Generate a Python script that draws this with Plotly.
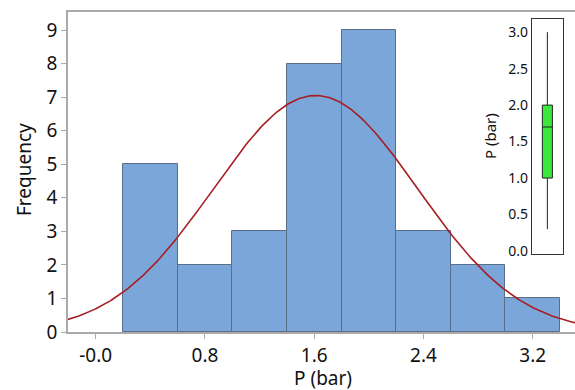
import numpy as np
import plotly.graph_objects as go

bin_edges = [0.2, 0.6, 1.0, 1.4, 1.8, 2.2, 2.6, 3.0, 3.4]
counts = [5, 2, 3, 8, 9, 3, 2, 1]
fit_mean = 1.61
fit_sd = 0.747
x_ticks = [0.0, 0.8, 1.6, 2.4, 3.2]
x_tick_labels = ["-0.0", "0.8", "1.6", "2.4", "3.2"]
y_ticks = list(range(10))
box_q1, box_median, box_q3 = 1.0, 1.7, 2.0
box_low, box_high = 0.3, 3.0
inset_ticks = [0.0, 0.5, 1.0, 1.5, 2.0, 2.5, 3.0]

centers = [(a + b) / 2 for a, b in zip(bin_edges[:-1], bin_edges[1:])]
bw = bin_edges[1] - bin_edges[0]
n = sum(counts)

xs = np.linspace(-0.25, 3.55, 300)
ys = n * bw / (fit_sd * np.sqrt(2 * np.pi)) * np.exp(-0.5 * ((xs - fit_mean) / fit_sd) ** 2)

font = "Noto Sans"
fig = go.Figure()
fig.add_trace(go.Bar(x=centers, y=counts, width=bw,
                     marker=dict(color="#7BA6DA", line=dict(color="#5B6E88", width=1)),
                     showlegend=False))
fig.add_trace(go.Scatter(x=xs, y=ys, mode="lines",
                         line=dict(color="#A71E22", width=1.6), showlegend=False))
fig.add_trace(go.Box(x=[0], q1=[box_q1], median=[box_median], q3=[box_q3],
                     lowerfence=[box_low], upperfence=[box_high],
                     width=0.65, whiskerwidth=0,
                     fillcolor="#3BE83B", line=dict(color="#222222", width=1),
                     xaxis="x2", yaxis="y2", showlegend=False, hoverinfo="skip"))

W, H = 575, 390
l, r, t, b = 68, 0, 12, 58
pw, ph = W - l - r, H - t - b


def px_to_paper(x, y):
    return (x - l) / pw, (H - y - b) / ph


ann = []
for text, px, py, size, angle in [("P (bar)", 323, 378, 19, 0),
                                  ("Frequency", 24, 170, 19, -90),
                                  ("P (bar)", 490, 136, 15, -90)]:
    ax_, ay_ = px_to_paper(px, py)
    ann.append(dict(text=text, x=ax_, y=ay_, xref="paper", yref="paper",
                    xanchor="center", yanchor="middle", showarrow=False,
                    textangle=angle, font=dict(size=size)))

fig.update_layout(
    width=W, height=H,
    margin=dict(l=l, r=r, t=t, b=b, autoexpand=False),
    paper_bgcolor="white", plot_bgcolor="white",
    font=dict(family=font, color="#111111"),
    bargap=0,
    xaxis=dict(range=[-0.203, 3.51], tickvals=x_ticks, ticktext=x_tick_labels,
               showline=True, mirror=True, linecolor="#aaaaaa", linewidth=1.5,
               ticks="outside", ticklen=5, tickcolor="#aaaaaa", automargin=False,
               showgrid=False, zeroline=False, tickfont=dict(size=19)),
    yaxis=dict(range=[0, 9.54], tickvals=y_ticks,
               showline=True, linecolor="#aaaaaa", linewidth=1.5,
               ticks="outside", ticklen=5, tickcolor="#aaaaaa", automargin=False,
               showgrid=False, zeroline=False, tickfont=dict(size=19)),
    xaxis2=dict(domain=[0.915, 0.976], anchor="y2", range=[-1, 1], automargin=False,
                showticklabels=False, ticks="", showgrid=False, zeroline=False,
                showline=True, mirror=True, linecolor="#333333", linewidth=1.2),
    yaxis2=dict(domain=[0.244, 0.978], anchor="x2", range=[-0.04, 3.18],
                tickvals=inset_ticks, tickformat=".1f", ticks="", automargin=False,
                showgrid=False, zeroline=False,
                showline=True, mirror=True, linecolor="#333333", linewidth=1.2,
                tickfont=dict(size=14)),
    annotations=ann,
)

fig.write_html("out.html", config={"displayModeBar": False},
               post_script="document.body.style.margin='0';document.body.style.overflow='hidden';")
